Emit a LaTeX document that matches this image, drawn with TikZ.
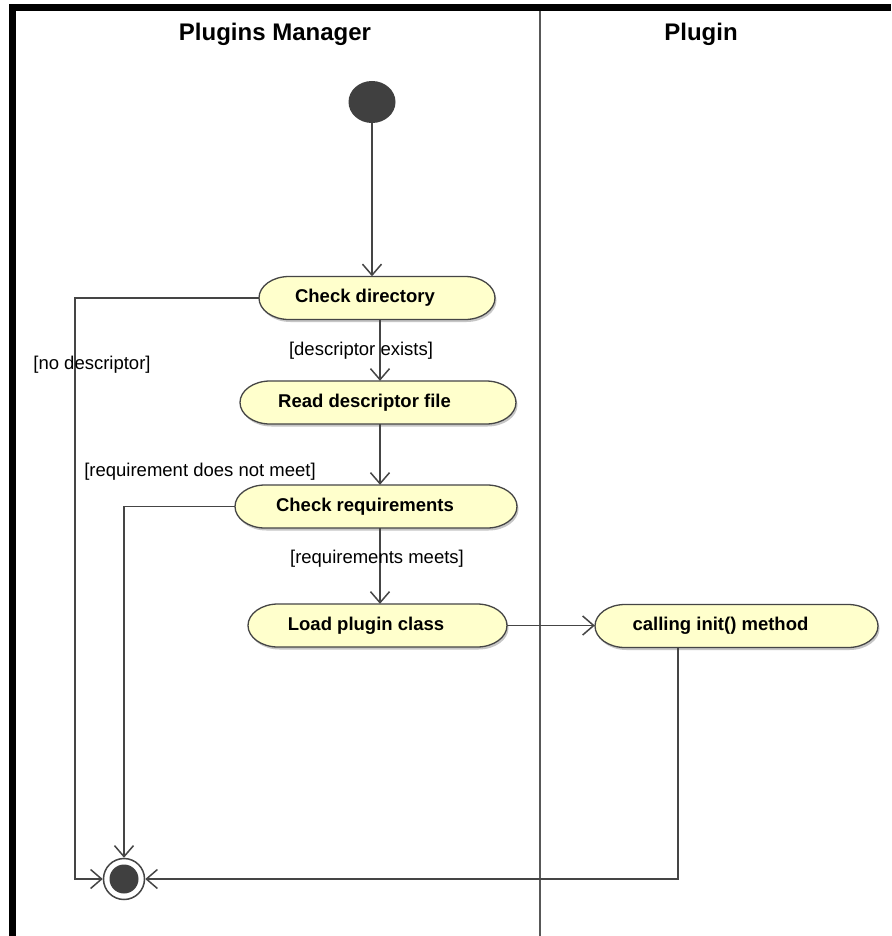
\documentclass[tikz,border=0pt]{standalone}
\usepackage{fontspec}
\setmainfont{Liberation Sans}
\usetikzlibrary{arrows.meta,calc,shapes.geometric}

\definecolor{actfill}{HTML}{FFFFCC}
\definecolor{ink}{HTML}{454545}
\definecolor{dotink}{HTML}{404040}

\tikzset{
  x=1pt, y=1pt,
  flow/.style={draw=ink, line width=1.6pt,
    -{Straight Barb[length=11pt,width=19pt,line width=1.5pt]}},
  lane/.style={draw=ink!90, line width=1.5pt},
  actshadow/.style={fill=gray!45},
  actbox/.style={fill=actfill, draw=ink, line width=1.3pt},
  acttext/.style={inner sep=0pt, font=\fontsize{18.5}{22}\selectfont\bfseries},
  guard/.style={inner sep=0pt, font=\fontsize{18.5}{22}\selectfont},
  header/.style={inner sep=0pt, font=\fontsize{24}{28}\selectfont\bfseries},
  startdot/.style={ellipse, fill=dotink, minimum width=47pt, minimum height=42pt, inner sep=0pt},
  endring/.style={circle, draw=ink, line width=1.5pt, fill=white, minimum size=41pt, inner sep=0pt},
  enddot/.style={circle, fill=dotink, minimum size=29pt, inner sep=0pt},
}

% Activity: #1 name, #2 centre x, #3 centre y (downwards), #4 width,
% #5 horizontal offset of the caption, #6 caption
\newcommand{\activity}[6]{%
  \begin{scope}[shift={(#2,-#3)}]
    \pgfmathsetmacro{\actedge}{#4/2-30}
    \fill[actshadow, shift={(1.5,-2.5)}]
      (-\actedge,21.5) -- (\actedge,21.5)
      arc[start angle=90, end angle=-90, x radius=30, y radius=21.5]
      -- (-\actedge,-21.5)
      arc[start angle=270, end angle=90, x radius=30, y radius=21.5] -- cycle;
    \path[actbox]
      (-\actedge,21.5) -- (\actedge,21.5)
      arc[start angle=90, end angle=-90, x radius=30, y radius=21.5]
      -- (-\actedge,-21.5)
      arc[start angle=270, end angle=90, x radius=30, y radius=21.5] -- cycle;
    \node[rectangle, minimum width=#4pt, minimum height=43pt, inner sep=0pt] (#1) at (0,0) {};
    \node[acttext] (#1-text) at (#5,0) {#6};
  \end{scope}%
}

\begin{document}
\begin{tikzpicture}
  % canvas
  \fill[white] (0,0) rectangle (891,-936);
  \useasboundingbox (0,0) rectangle (891,-936);

  % frame edges
  \fill[black] (9,-4) rectangle (891,-11);
  \fill[black] (9,-4) rectangle (16,-936);

  % swimlane divider
  \coordinate (lanetop) at (540,-11);
  \coordinate (lanebot) at (540,-936);
  \draw[lane] (lanetop) -- (lanebot);

  % lane headers
  \node[header] (hmanager) at (275,-34) {Plugins Manager};
  \node[header] (hplugin) at (701,-34) {Plugin};

  % activities
  \activity{cd}{377}{298}{236}{-12}{Check directory}
  \activity{rd}{378}{402.5}{276}{-13.5}{Read descriptor file}
  \activity{cr}{376}{506.5}{282}{-11}{Check requirements}
  \activity{lp}{377.5}{625.5}{259}{-11.5}{Load plugin class}
  \activity{ci}{736.5}{626}{283}{-16}{calling init() method}

  % initial and final states
  \node[startdot] (start) at (372,-102) {};
  \node[endring] (end) at (124,-879) {};
  \node[enddot] (enddot) at (end) {};

  % routing points
  \coordinate (axis) at (380,0);
  \coordinate (nodesc) at (75,-298);
  \coordinate (initdrop) at (678,0);

  % control flow
  \draw[flow] (start.south) -- (start.south |- cd.north);
  \draw[flow] (cd.south -| axis) -- (rd.north -| axis);
  \draw[flow] (rd.south -| axis) -- (cr.north -| axis);
  \draw[flow] (cr.south -| axis) -- (lp.north -| axis);
  \draw[flow] (lp.east) -- (lp.east -| ci.west);
  \draw[flow] (cd.west) -- (nodesc) |- (end.west);
  \draw[flow] (cr.west) -| (end.north);
  \draw[flow] (ci.south -| initdrop) |- (end.east);

  % guards
  \node[guard] (gnodesc) at (92,-365) {[no descriptor]};
  \node[guard] (gexists) at (361,-351) {[descriptor exists]};
  \node[guard] (gnotmeet) at (200,-472) {[requirement does not meet]};
  \node[guard] (gmeets) at (377,-559) {[requirements meets]};
\end{tikzpicture}
\end{document}
